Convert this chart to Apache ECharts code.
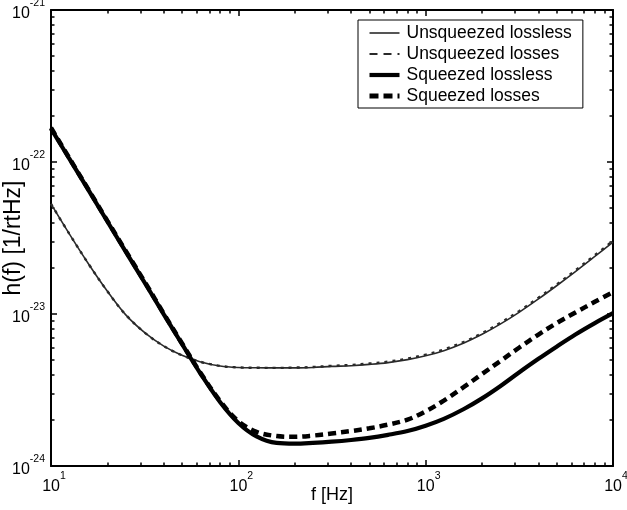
<!DOCTYPE html>
<html>
<head>
<meta charset="utf-8">
<script src="https://cdn.jsdelivr.net/npm/echarts@6/dist/echarts.min.js"></script>
<style>
html,body{margin:0;padding:0;background:#fff;}
#chart{width:627px;height:510px;}
</style>
</head>
<body>
<div id="chart"></div>
<script>
// ---- data ----
const freq = [10, 12.5, 16, 20, 25, 32, 40, 50, 63, 80, 100, 125, 160, 200, 250, 315, 400, 500, 630, 800, 1000, 1250, 1600, 2000, 2500, 3150, 4000, 5000, 6300, 8000, 10000];
const unsqLossless = [5.30e-23, 3.38e-23, 2.10e-23, 1.41e-23, 9.91e-24, 7.45e-24, 6.15e-24, 5.35e-24, 4.84e-24, 4.55e-24, 4.45e-24, 4.43e-24, 4.42e-24, 4.42e-24, 4.45e-24, 4.52e-24, 4.57e-24, 4.66e-24, 4.79e-24, 5.01e-24, 5.31e-24, 5.74e-24, 6.45e-24, 7.35e-24, 8.57e-24, 1.025e-23, 1.256e-23, 1.534e-23, 1.90e-23, 2.39e-23, 2.97e-23];
const unsqLosses   = [5.30e-23, 3.38e-23, 2.10e-23, 1.41e-23, 9.91e-24, 7.45e-24, 6.15e-24, 5.35e-24, 4.84e-24, 4.55e-24, 4.45e-24, 4.43e-24, 4.42e-24, 4.44e-24, 4.48e-24, 4.56e-24, 4.62e-24, 4.72e-24, 4.86e-24, 5.09e-24, 5.40e-24, 5.84e-24, 6.56e-24, 7.48e-24, 8.73e-24, 1.044e-23, 1.28e-23, 1.563e-23, 1.937e-23, 2.437e-23, 3.03e-23];
const sqLossless   = [1.66e-22, 1.055e-22, 6.40e-23, 4.06e-23, 2.58e-23, 1.57e-23, 9.95e-24, 6.35e-24, 4.03e-24, 2.63e-24, 1.92e-24, 1.567e-24, 1.419e-24, 1.403e-24, 1.419e-24, 1.445e-24, 1.483e-24, 1.531e-24, 1.603e-24, 1.698e-24, 1.841e-24, 2.042e-24, 2.371e-24, 2.786e-24, 3.35e-24, 4.121e-24, 5.07e-24, 6.095e-24, 7.328e-24, 8.71e-24, 1.012e-23];
const sqLosses     = [1.68e-22, 1.065e-22, 6.46e-23, 4.10e-23, 2.61e-23, 1.59e-23, 1.005e-23, 6.42e-24, 4.08e-24, 2.67e-24, 1.972e-24, 1.679e-24, 1.574e-24, 1.556e-24, 1.585e-24, 1.637e-24, 1.698e-24, 1.77e-24, 1.871e-24, 2.018e-24, 2.291e-24, 2.692e-24, 3.311e-24, 4.027e-24, 4.898e-24, 5.998e-24, 7.328e-24, 8.71e-24, 1.023e-23, 1.202e-23, 1.39e-23];
const seriesNames = ['Unsqueezed lossless', 'Unsqueezed losses', 'Squeezed lossless', 'Squeezed losses'];
const xMajorTicks = [10, 100, 1000, 10000];
const yMajorTicks = [1e-24, 1e-23, 1e-22, 1e-21];
const minorMultiples = [2, 3, 4, 5, 6, 7, 8, 9];
const xTitle = 'f [Hz]';
const yTitle = 'h(f) [1/rtHz]';

// ---- build ----
// values are expressed in units of 1e-24 for the log axis (avoids float rounding of tiny tick values)
const Y_UNIT_EXP = -24;
const yu = v => v / Math.pow(10, Y_UNIT_EXP);
const FONT = "'Liberation Sans', Arial, Helvetica, sans-serif";
function minorLogs(majors) {
  const out = [];
  for (let i = 0; i < majors.length - 1; i++) {
    minorMultiples.forEach(m => out.push(Math.log10(majors[i] * m)));
  }
  return out;
}
const xMinorLog = minorLogs(xMajorTicks);
const yMinorLog = minorLogs(yMajorTicks.map(yu));
const expOf = v => Math.round(Math.log10(v));

const richX = {
  b: {fontSize: 16, fontFamily: FONT, color: '#000', verticalAlign: 'bottom', lineHeight: 24, padding: [0, 0, 0, 6]},
  s: {fontSize: 10.5, fontFamily: FONT, color: '#000', verticalAlign: 'top', lineHeight: 24}
};
const richY = {
  b: {fontSize: 16, fontFamily: FONT, color: '#000', verticalAlign: 'bottom', lineHeight: 24},
  s: {fontSize: 10.5, fontFamily: FONT, color: '#000', verticalAlign: 'top', lineHeight: 24}
};

const MINOR_LEN = 3.5;
const tickStyle = {color: '#000', width: 1.5};
function logX(pos, withLabel) {
  return {
    type: 'log', position: pos, offset: 0, min: xMajorTicks[0], max: xMajorTicks[xMajorTicks.length - 1], logBase: 10,
    axisLine: {show: true, onZero: false, lineStyle: {color: '#000', width: 2}},
    axisTick: {show: true, inside: true, length: 6, lineStyle: tickStyle},
    splitLine: {show: false},
    axisLabel: withLabel ? {show: true, margin: 5, formatter: v => '{b|10}{s|' + expOf(v) + '}', rich: richX} : {show: false},
    name: withLabel ? xTitle : '', nameLocation: 'middle', nameGap: 20, nameMoveOverlap: false,
    nameTextStyle: {fontSize: 18, fontFamily: FONT, color: '#000'}
  };
}
function minorX(pos) {
  return {
    type: 'value', position: pos, offset: 0, min: Math.log10(xMajorTicks[0]), max: Math.log10(xMajorTicks[xMajorTicks.length - 1]),
    axisLine: {show: false, onZero: false}, splitLine: {show: false}, axisLabel: {show: false},
    axisTick: {show: true, inside: true, length: MINOR_LEN, customValues: xMinorLog, lineStyle: tickStyle}
  };
}
function logY(pos, withLabel) {
  return {
    type: 'log', position: pos, offset: 0, min: yu(yMajorTicks[0]), max: yu(yMajorTicks[yMajorTicks.length - 1]), logBase: 10,
    axisLine: {show: true, onZero: false, lineStyle: {color: '#000', width: 2}},
    axisTick: {show: true, inside: true, length: 6, lineStyle: tickStyle},
    splitLine: {show: false},
    axisLabel: withLabel ? {show: true, margin: 6, formatter: v => '{b|10}{s|' + (expOf(v) + Y_UNIT_EXP) + '}', rich: richY} : {show: false},
    name: withLabel ? yTitle : '', nameLocation: 'middle', nameGap: 26, nameMoveOverlap: false,
    nameTextStyle: {fontSize: 23, fontFamily: FONT, color: '#000'}
  };
}
function minorY(pos) {
  return {
    type: 'value', position: pos, offset: 0, min: Math.log10(yu(yMajorTicks[0])), max: Math.log10(yu(yMajorTicks[yMajorTicks.length - 1])),
    axisLine: {show: false, onZero: false}, splitLine: {show: false}, axisLabel: {show: false},
    axisTick: {show: true, inside: true, length: MINOR_LEN, customValues: yMinorLog, lineStyle: tickStyle}
  };
}

const dataSets = [unsqLossless, unsqLosses, sqLossless, sqLosses];
const styles = [
  {color: '#2a2a2a', width: 1.6, type: 'solid'},
  {color: '#2a2a2a', width: 2.4, type: [3, 5]},
  {color: '#000', width: 4.2, type: 'solid'},
  {color: '#000', width: 4.5, type: [8, 5]}
];
const legendStyles = [
  {color: '#2a2a2a', width: 1.6, type: 'solid'},
  {color: '#2a2a2a', width: 1.8, type: [8, 6]},
  {color: '#000', width: 4.2, type: 'solid'},
  {color: '#000', width: 5, type: [9, 5]}
];

const series = dataSets.map((arr, k) => ({
  type: 'line', name: seriesNames[k], xAxisIndex: 0, yAxisIndex: 0,
  data: freq.map((f, i) => [f, yu(arr[i])]),
  symbol: 'none', showSymbol: false, smooth: 0.35,
  lineStyle: styles[k], itemStyle: {color: styles[k].color},
  z: 2 + k
}));

const chart = echarts.init(document.getElementById('chart'), null, {renderer: 'canvas'});
chart.setOption({
  animation: false,
  backgroundColor: '#fff',
  grid: {left: 51, right: 14, top: 10, bottom: 44, containLabel: false, outerBoundsMode: 'none'},
  legend: {
    show: true, orient: 'vertical', left: 358, top: 20, z: 20,
    backgroundColor: '#fff', borderColor: '#000', borderWidth: 1,
    padding: [4, 11, 3, 9], itemGap: 3, itemWidth: 30, itemHeight: 14,
    textStyle: {fontSize: 17.5, fontFamily: FONT, color: '#000', padding: [0, 0, 0, 2]},
    data: seriesNames.map((n, k) => ({name: n, lineStyle: legendStyles[k], itemStyle: {opacity: 0, borderWidth: 0}}))
  },
  xAxis: [logX('bottom', true), logX('top', false), minorX('bottom'), minorX('top')],
  yAxis: [logY('left', true), logY('right', false), minorY('left'), minorY('right')],
  series: series
});
</script>
</body>
</html>
